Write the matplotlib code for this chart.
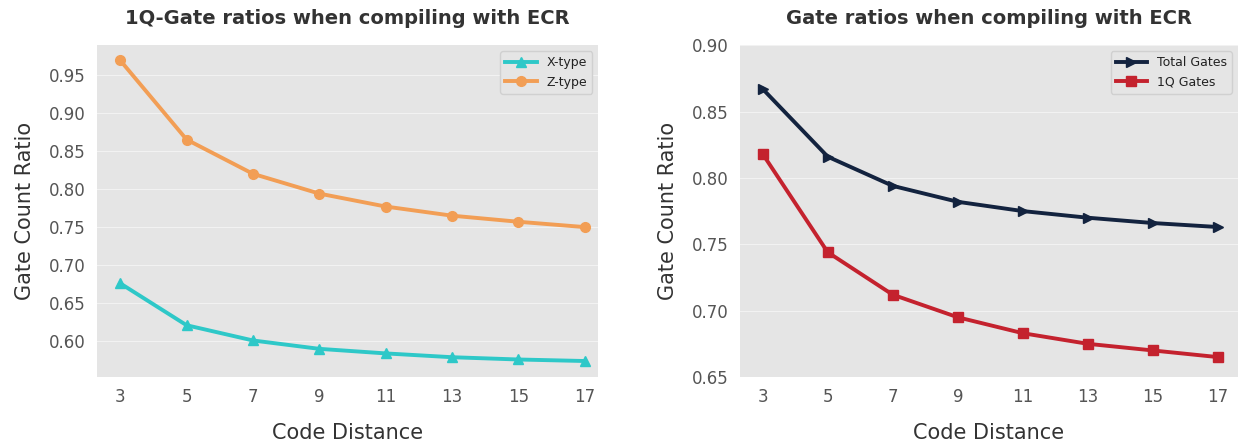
import matplotlib
matplotlib.use("Agg")
import matplotlib.pyplot as plt

distances = [3, 5, 7, 9, 11, 13, 15, 17]
x_type = [0.676, 0.621, 0.601, 0.590, 0.584, 0.579, 0.576, 0.574]
z_type = [0.969, 0.865, 0.820, 0.794, 0.777, 0.765, 0.757, 0.750]
total_gates = [0.867, 0.816, 0.794, 0.782, 0.775, 0.770, 0.766, 0.763]
oneq_gates = [0.818, 0.744, 0.712, 0.695, 0.683, 0.675, 0.670, 0.665]

plt.rcParams['font.family'] = 'DejaVu Sans'

fig = plt.figure(figsize=(12.38, 4.43), dpi=100)
ax1 = fig.add_axes([0.0784, 0.149, 0.405, 0.749])
ax2 = fig.add_axes([0.5977, 0.149, 0.4023, 0.749])


def style(ax, title):
    ax.set_facecolor('#e5e5e5')
    for s in ax.spines.values():
        s.set_visible(False)
    ax.grid(axis='y', color='#f2f2f2', linewidth=0.8)
    ax.set_axisbelow(True)
    ax.tick_params(axis='both', length=0, labelsize=12, colors='#555555', pad=8)
    ax.set_xticks(distances)
    ax.set_xlabel('Code Distance', fontsize=15, color='#333333', labelpad=12)
    ax.set_ylabel('Gate Count Ratio', fontsize=15, color='#333333', labelpad=10)
    ax.set_title(title, fontsize=14, fontweight='bold', color='#333333', pad=15)
    leg = ax.legend(loc='upper right', fontsize=9, facecolor='#e5e5e5',
                    edgecolor='#d0d0d0', framealpha=1, handlelength=2.5)
    for t in leg.get_texts():
        t.set_color('#222222')


ax1.plot(distances, x_type, color='#2ec8c8', marker='^', markersize=7,
         linewidth=2.8, label='X-type')
ax1.plot(distances, z_type, color='#f29e55', marker='o', markersize=7,
         linewidth=2.8, label='Z-type')
ax1.set_xlim(2.3, 17.42)
ax1.set_ylim(0.553, 0.989)
ax1.set_yticks([0.60, 0.65, 0.70, 0.75, 0.80, 0.85, 0.90, 0.95])
style(ax1, '1Q-Gate ratios when compiling with ECR')

ax2.plot(distances, total_gates, color='#13233f', marker='>', markersize=7,
         linewidth=2.8, label='Total Gates')
ax2.plot(distances, oneq_gates, color='#c4222e', marker='s', markersize=7,
         linewidth=2.8, label='1Q Gates')
ax2.set_xlim(2.3, 17.62)
ax2.set_ylim(0.65, 0.90)
ax2.set_yticks([0.65, 0.70, 0.75, 0.80, 0.85, 0.90])
style(ax2, 'Gate ratios when compiling with ECR')

fig.savefig('out.png', dpi=100)
